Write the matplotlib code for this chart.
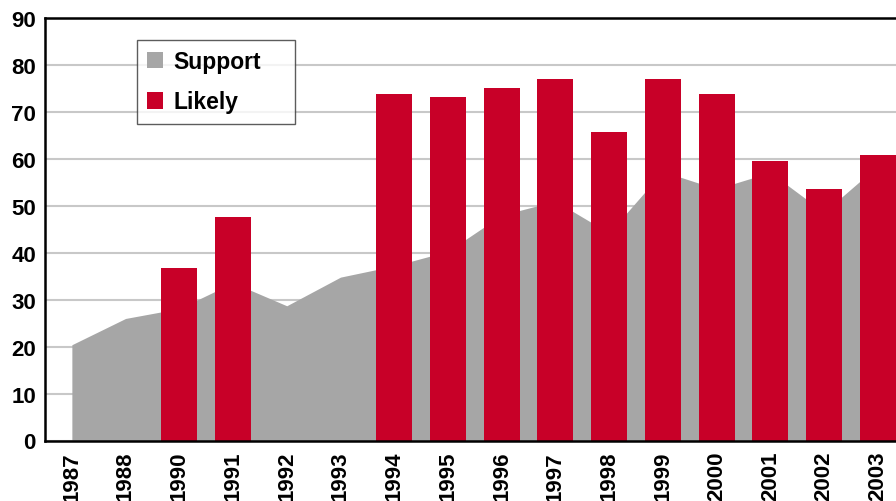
import matplotlib
matplotlib.use("Agg")
import matplotlib.pyplot as plt
from matplotlib.patches import Patch
import numpy as np

years = ["1987", "1988", "1990", "1991", "1992", "1993", "1994", "1995",
         "1996", "1997", "1998", "1999", "2000", "2001", "2002", "2003"]
support = [20.4, 26.0, 28.1, 33.6, 28.7, 34.8, 37.2, 40.3,
           48.0, 51.0, 44.2, 57.3, 53.6, 57.1, 48.6, 58.5]
likely = [np.nan, np.nan, 36.7, 47.6, np.nan, np.nan, 73.8, 73.2,
          75.1, 77.0, 65.7, 77.0, 73.8, 59.5, 53.6, 60.8]

plt.rcParams['font.family'] = ['Liberation Sans', 'DejaVu Sans']

fig = plt.figure(figsize=(8.96, 5.02), dpi=100)
ax = fig.add_axes([45/896, (502-441.5)/502, 1 - 45/896, (441.5-19)/502])

x = np.arange(len(years))
grey = "#a6a6a6"
red = "#c80028"

ax.fill_between(x, 0, support, color=grey, linewidth=0, zorder=2)
ax.bar(x, likely, width=0.67, color=red, linewidth=0, zorder=3)

ax.set_ylim(0, 90)
ax.set_xlim(-0.5, 15.34)
ax.set_yticks(range(0, 91, 10))
ax.set_xticks(x)
ax.set_xticklabels(years, rotation=90, va="top", ha="center")
ax.yaxis.grid(True, color="#c8c8c8", linewidth=1.5, zorder=0)
ax.set_axisbelow(True)
ax.tick_params(axis="both", length=0, labelsize=16)
ax.tick_params(axis="y", pad=6.5)
ax.tick_params(axis="x", pad=7.5)
for lab in ax.get_xticklabels() + ax.get_yticklabels():
    lab.set_fontweight("bold")

for s in ["left", "top", "bottom"]:
    ax.spines[s].set_linewidth(1.8)
    ax.spines[s].set_color("black")
ax.spines["bottom"].set_zorder(5)
ax.spines["right"].set_visible(False)

handles = [Patch(facecolor=grey, edgecolor="none", label="Support"),
           Patch(facecolor=red, edgecolor="none", label="Likely")]
leg = ax.legend(handles=handles, loc="upper left", mode="expand",
                bbox_to_anchor=(137/896, 1 - 122/502, (295-137)/896, 81/502),
                bbox_transform=fig.transFigure,
                prop={"weight": "bold", "size": 16.5}, frameon=True, fancybox=False,
                handlelength=0.7, handleheight=0.7, handletextpad=0.45,
                labelspacing=0.75, borderpad=0.45, borderaxespad=0)
leg.get_frame().set_edgecolor("#333333")
leg.get_frame().set_linewidth(1.0)
leg.set_zorder(10)

fig.savefig("out.png", dpi=100)
